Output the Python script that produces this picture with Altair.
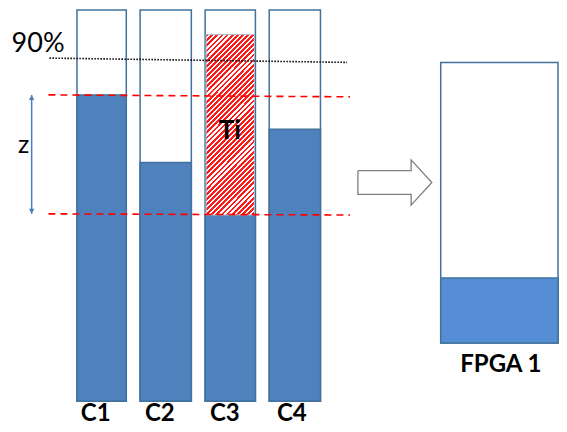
import altair as alt
import pandas as pd

# ---- data (x in diagram units, y in % of column capacity) ----
columns = ["C1", "C2", "C3", "C4"]
col_left = [78, 142, 208, 273]
col_right = [128, 194, 259, 325]
label_x = [97, 162, 228, 296]
fill_pct = [78.3, 61.0, 47.6, 69.5]

ti_x = [209, 258]
ti_range = [47.6, 93.7]

fpga_x = [447, 566]
fpga_range = [14.9, 86.6]
fpga_fill = 31.5

threshold_line = {"x": [50, 352], "y": [87.7, 86.6]}
z_upper = {"x": [49, 355], "y": [78.3, 77.8]}
z_lower = {"x": [49, 355], "y": [47.9, 47.6]}
z_arrow_x = 32

arrow_x = [363, 417, 417, 438, 417, 417, 363, 363]
arrow_y = [58.94, 58.94, 61.71, 55.92, 50.13, 52.90, 52.90, 58.94]

X_DOM = [8, 567]
Y_DOM = [-5.8, 100.50]

W, H = 551, 416


def X(field):
    return alt.X(field, type="quantitative", scale=alt.Scale(domain=X_DOM, nice=False, zero=False), axis=None)


def Y(field):
    return alt.Y(field, type="quantitative", scale=alt.Scale(domain=Y_DOM, nice=False, zero=False), axis=None)


OUTLINE = "#41719c"
BAR = "#4f81bd"

cols = pd.DataFrame({"col": columns, "l": col_left, "r": col_right, "lx": label_x,
                     "f": fill_pct, "b": 0.0, "t": 100.0, "ly": -3.3})

outline = alt.Chart(cols).mark_rect(fill="white", stroke=OUTLINE, strokeWidth=1.5).encode(
    x=X("l"), x2="r", y=Y("b"), y2="t")
bars = alt.Chart(cols).mark_rect(fill=BAR, stroke=OUTLINE, strokeWidth=1.5).encode(
    x=X("l"), x2="r", y=Y("b"), y2="f")

# hatch pattern via hard-stop linear gradient
n = 45
stops = []
for i in range(n):
    a = i / n
    m = (i + 0.55) / n
    e = (i + 1) / n
    stops += [alt.GradientStop(offset=a, color="#ff1a1a"), alt.GradientStop(offset=m, color="#ff1a1a"),
              alt.GradientStop(offset=m, color="white"), alt.GradientStop(offset=e, color="white")]
hatch = alt.LinearGradient(gradient="linear", stops=stops, x1=0, y1=0, x2=0.32, y2=1.19)

ti_df = pd.DataFrame({"l": [ti_x[0]], "r": [ti_x[1]], "b": [ti_range[0]], "t": [ti_range[1]]})
ti_rect = alt.Chart(ti_df).mark_rect(fill=hatch, stroke="#b0bccf", strokeWidth=1).encode(
    x=X("l"), x2="r", y=Y("b"), y2="t")

fp = pd.DataFrame({"l": [fpga_x[0]], "r": [fpga_x[1]], "b": [fpga_range[0]], "t": [fpga_range[1]], "f": [fpga_fill]})
fpga_box = alt.Chart(fp).mark_rect(fill="white", stroke=OUTLINE, strokeWidth=1.5).encode(
    x=X("l"), x2="r", y=Y("b"), y2="t")
fpga_bar = alt.Chart(fp).mark_rect(fill="#558ed5", stroke=OUTLINE, strokeWidth=1.5).encode(
    x=X("l"), x2="r", y=Y("b"), y2="f")


def seg(d, **kw):
    df = pd.DataFrame({"x1": [d["x"][0]], "x2": [d["x"][1]], "y1": [d["y"][0]], "y2": [d["y"][1]]})
    return alt.Chart(df).mark_rule(**kw).encode(x=X("x1"), x2="x2", y=Y("y1"), y2="y2")


dotted = seg(threshold_line, color="black", strokeWidth=1.6, strokeDash=[1.5, 1.5])
red1 = seg(z_upper, color="#ff0000", strokeWidth=1.6, strokeDash=[7, 5])
red2 = seg(z_lower, color="#ff0000", strokeWidth=1.6, strokeDash=[7, 5])

zdf = pd.DataFrame({"x": [z_arrow_x], "y1": [z_lower["y"][0]], "y2": [z_upper["y"][0]]})
zline = alt.Chart(zdf).mark_rule(color="#4a7ebb", strokeWidth=1.5).encode(x=X("x"), y=Y("y1"), y2="y2")
zhead_up = alt.Chart(pd.DataFrame({"x": [z_arrow_x], "y": [z_upper["y"][0] - 0.7]})).mark_point(
    shape="triangle-up", filled=True, size=30, color="#4a7ebb", opacity=1).encode(x=X("x"), y=Y("y"))
zhead_dn = alt.Chart(pd.DataFrame({"x": [z_arrow_x], "y": [z_lower["y"][0] + 0.7]})).mark_point(
    shape="triangle-down", filled=True, size=30, color="#4a7ebb", opacity=1).encode(x=X("x"), y=Y("y"))

adf = pd.DataFrame({"x": arrow_x, "y": arrow_y, "o": list(range(len(arrow_x)))})
block_arrow = alt.Chart(adf).mark_line(color="#7f7f7f", strokeWidth=1.3, strokeJoin="miter").encode(
    x=X("x"), y=Y("y"), order="o")

FONT = "Lato"
col_labels = alt.Chart(cols).mark_text(font=FONT, fontWeight="bold", fontSize=24, color="black",
                                       baseline="middle").encode(x=X("lx"), y=Y("ly"), text="col")


def label(txt, x, y, size, bold=False):
    df = pd.DataFrame({"x": [x], "y": [y], "t": [txt]})
    return alt.Chart(df).mark_text(font=FONT, fontWeight="bold" if bold else "normal", fontSize=size,
                                   color="black", baseline="middle").encode(x=X("x"), y=Y("y"), text="t")


t90 = label("90%", 38.5, 91.4, 27)
tz = label("z", 24, 65.5, 25)
tti = label("Ti", 233, 69.0, 26, bold=True)
tfpga = label("FPGA 1", 508, 9.3, 24, bold=True)

chart = alt.layer(
    outline, bars, ti_rect, fpga_box, fpga_bar, dotted, red1, red2, zline, zhead_up, zhead_dn,
    block_arrow, col_labels, t90, tz, tti, tfpga
).properties(width=W, height=H, padding=0, background="white").configure_view(stroke=None)

chart.save("out.html", embed_options={"renderer": "svg", "actions": False})
